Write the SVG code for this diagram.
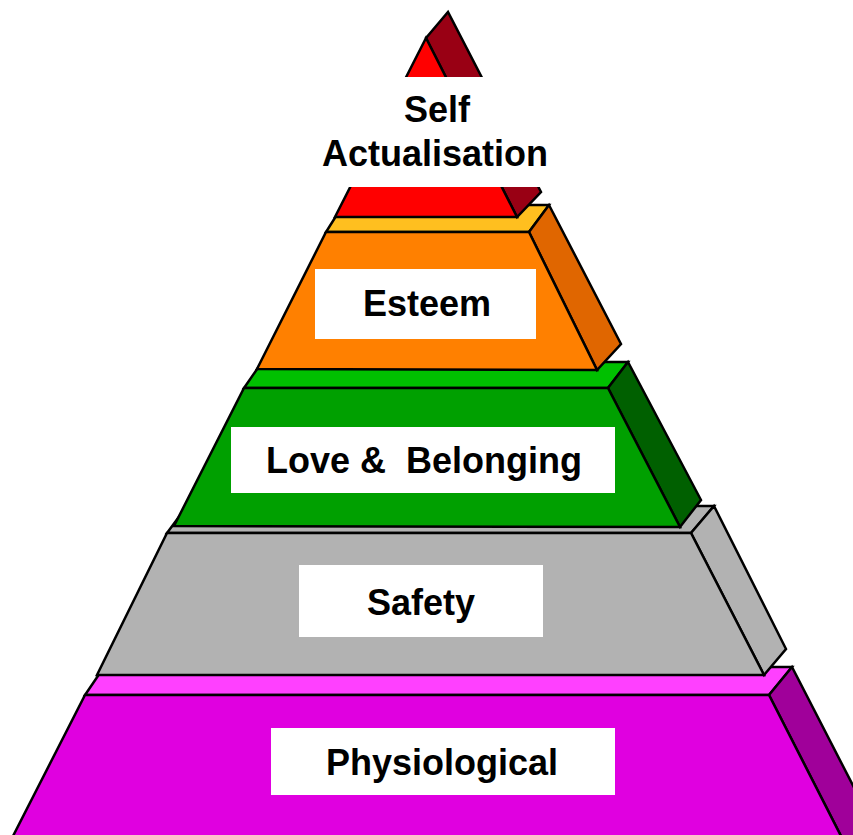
<svg xmlns="http://www.w3.org/2000/svg" width="853" height="835" viewBox="0 0 853 835">
<style>
.e{stroke:#000;stroke-width:2.5;stroke-linejoin:miter}
.lbl{fill:#fff}
.t{font-family:"Liberation Sans",Arial,sans-serif;font-weight:bold;font-size:36px;fill:#000;text-anchor:middle;white-space:pre}
</style>
<rect width="853" height="835" fill="#fff"/>
<g id="physiological">
<polygon class="e" fill="#FF40FF" points="85,695 769,695 792,667 104,667"/>
<polygon class="e" fill="#A0009A" points="769,695 792,667 880,838 843,840"/>
<polygon class="e" fill="#E000E0" points="85,695 769,695 843,840 11,840"/>
<rect class="lbl" x="271" y="728" width="344" height="67"/>
<text class="t" x="442" y="775">Physiological</text>
</g>
<g id="safety">
<polygon class="e" fill="#B2B2B2" points="167,533 691,533 714,506 187,506"/>
<polygon class="e" fill="#B2B2B2" points="691,533 714,506 786,649 764,675"/>
<polygon class="e" fill="#B2B2B2" points="167,533 691,533 764,675 97,675"/>
<rect class="lbl" x="299" y="565" width="244" height="72"/>
<text class="t" x="421" y="615">Safety</text>
</g>
<g id="love">
<polygon class="e" fill="#00C000" points="244,388 608,388 628,362 262,362"/>
<polygon class="e" fill="#006000" points="608,388 628,362 701,500 680,527"/>
<polygon class="e" fill="#00A000" points="244,388 608,388 680,527 174,526"/>
<rect class="lbl" x="231" y="427" width="384" height="66"/>
<text class="t" x="424" y="473">Love &amp;  Belonging</text>
</g>
<g id="esteem">
<polygon class="e" fill="#FFBF1F" points="326,232 529,232 549,205 343,205"/>
<polygon class="e" fill="#E06600" points="529,232 549,205 621,344 597,370"/>
<polygon class="e" fill="#FF8000" points="326,232 529,232 597,370 257,369"/>
<rect class="lbl" x="315" y="269" width="221" height="70"/>
<text class="t" x="427" y="316">Esteem</text>
</g>
<g id="self-actualisation">
<polygon class="e" fill="#990014" points="426,38 448,12 541,192 517,217"/>
<polygon class="e" fill="#FF0000" points="426,38 517,217 335,217"/>
<rect fill="#fff" x="290" y="77" width="290" height="110"/>
<text class="t" x="437" y="122">Self</text>
<text class="t" x="435" y="166">Actualisation</text>
</g>
</svg>
